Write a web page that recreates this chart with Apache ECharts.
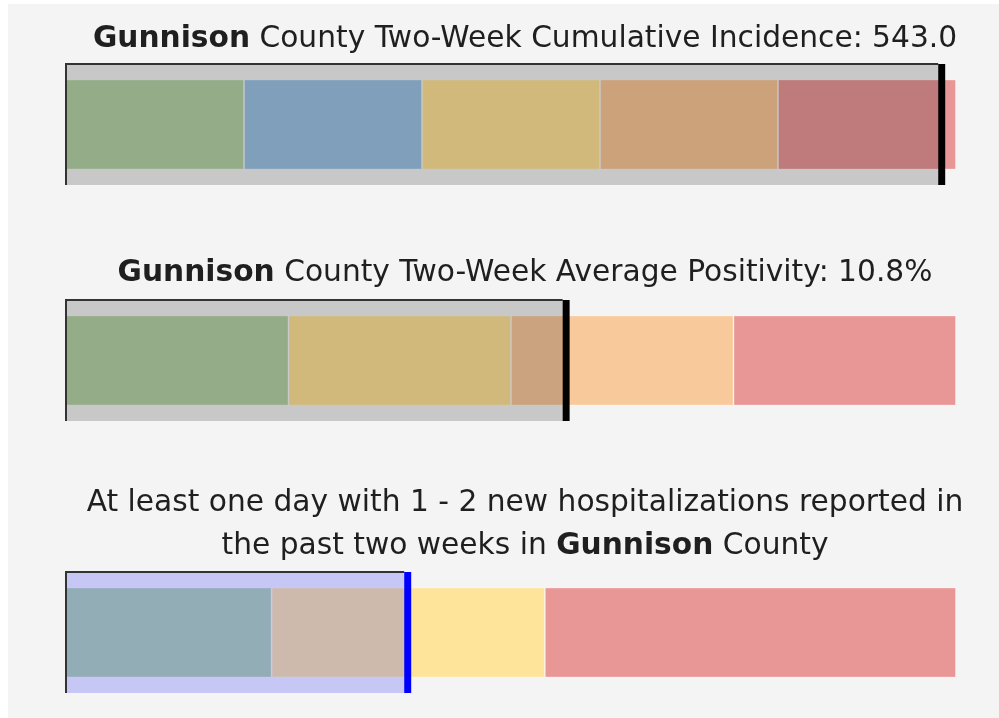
<!DOCTYPE html>
<html>
<head>
<meta charset="utf-8">
<script src="https://cdn.jsdelivr.net/npm/echarts@6/dist/echarts.min.js"></script>
<style>
  body { margin: 0; background: #ffffff; }
  #chart { position: absolute; left: 8px; top: 4px; width: 991px; height: 714px; background: #f4f4f4; }
</style>
</head>
<body>
<div id="chart"></div>
<script>
// band widths on a 0-100 scale
const incidenceBands = [20, 20, 20, 20, 20];
const incidenceColors = ["#b5d4a6", "#9cc3e5", "#fee297", "#f9c697", "#e99696"];
const incidenceMark = 98.0;

const positivityBands = [25, 25, 25, 25];
const positivityColors = ["#b5d4a6", "#fee297", "#f8c99b", "#e99696"];
const positivityMark = 55.8;

const hospBands = [23.1, 30.7, 46.2];
const hospColors = ["#b5d4a6", "#fde49a", "#e99696"];
const hospMark = 38.0;

const titles = [
  "{b|Gunnison} County Two-Week Cumulative Incidence: 543.0",
  "{b|Gunnison} County Two-Week Average Positivity: 10.8%",
  "At least one day with 1 - 2 new hospitalizations reported in\nthe past two weeks in {b|Gunnison} County",
];

const charts = [
  { bands: incidenceBands, colors: incidenceColors, mark: incidenceMark, top: 60, titleTop: 14,
    shade: "rgba(0,0,0,0.18)", markColor: "#000000" },
  { bands: positivityBands, colors: positivityColors, mark: positivityMark, top: 296, titleTop: 248,
    shade: "rgba(0,0,0,0.18)", markColor: "#000000" },
  { bands: hospBands, colors: hospColors, mark: hospMark, top: 568, titleTop: 478,
    shade: "rgba(0,0,255,0.185)", markColor: "#0000ff" },
];

const font = "DejaVu Sans";
const myChart = echarts.init(document.getElementById("chart"));

const grid = [];
const xAxis = [];
const yAxis = [];
const series = [];
const title = [];

charts.forEach((c, i) => {
  grid.push({ left: 58, right: 43, top: c.top, height: 121 });
  xAxis.push({ gridIndex: i, type: "value", min: 0, max: 100, show: false });
  yAxis.push({ gridIndex: i, type: "category", data: [""], show: false });
  title.push({
    text: titles[i],
    left: 517,
    top: c.titleTop,
    textAlign: "center",
    padding: 0,
    textStyle: {
      fontFamily: font,
      fontSize: 29.7,
      fontWeight: "normal",
      color: "#1f1f1f",
      lineHeight: 43,
      rich: { b: { fontFamily: font, fontSize: 29.7, fontWeight: "bold", color: "#1f1f1f", lineHeight: 43 } },
    },
  });

  c.bands.forEach((w, k) => {
    series.push({
      type: "bar",
      xAxisIndex: i,
      yAxisIndex: i,
      stack: "bands" + i,
      barWidth: 90,
      silent: true,
      itemStyle: { color: c.colors[k], borderColor: "rgba(255,255,255,0.3)", borderWidth: 1 },
      data: [w],
      z: 2,
    });
  });

  series.push({
    type: "custom",
    xAxisIndex: i,
    yAxisIndex: i,
    silent: true,
    z: 5,
    data: [[c.mark, 0]],
    renderItem: (params, api) => {
      const start = api.coord([0, api.value(1)]);
      const end = api.coord([api.value(0), api.value(1)]);
      const h = api.size([0, 1])[1];
      const y0 = start[1] - h / 2;
      return {
        type: "group",
        children: [
          { type: "rect", shape: { x: start[0], y: y0, width: end[0] - start[0], height: h },
            style: { fill: c.shade } },
          { type: "polyline", shape: { points: [[start[0], y0 + h], [start[0], y0], [end[0], y0]] },
            style: { stroke: "#333333", lineWidth: 2, fill: null } },
          { type: "rect", shape: { x: end[0], y: y0, width: 7, height: h },
            style: { fill: c.markColor } },
        ],
      };
    },
  });
});

myChart.setOption({
  animation: false,
  backgroundColor: "#f4f4f4",
  title,
  grid,
  xAxis,
  yAxis,
  series,
});
</script>
</body>
</html>
